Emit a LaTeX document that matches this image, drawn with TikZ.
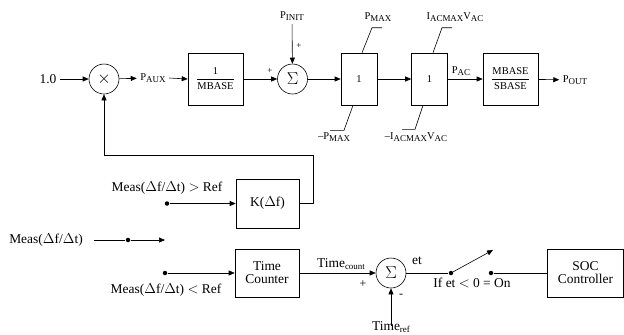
\documentclass[tikz,border=0pt]{standalone}
\usepackage{amsmath}
\usepackage{fontspec}
\setmainfont{Liberation Serif}
\usetikzlibrary{arrows.meta, positioning}
\newcommand{\subtxt}[1]{\raisebox{-0.4ex}{\fontsize{9}{10}\selectfont #1}}

\begin{document}
\begin{tikzpicture}[
    x=1bp, y=-1bp,
    line width=0.6bp,
    >={Triangle[length=6bp,width=5bp]},
    every node/.style={font=\fontsize{10.5}{12}\selectfont},
    blk/.style={draw, minimum width=55bp, minimum height=52bp, align=center, font=\fontsize{10.5}{12}\selectfont},
    lim/.style={blk, minimum width=36bp},
    ctl/.style={draw, minimum width=64bp, minimum height=48bp, align=center, font=\fontsize{13.5}{15}\selectfont},
    junc/.style={draw, circle, minimum size=30bp, inner sep=0pt, font=\fontsize{16}{16}\selectfont},
    big/.style={font=\fontsize{13.5}{15}\selectfont},
    sgn/.style={font=\fontsize{9}{10}\selectfont, inner sep=0pt},
    dot/.style={circle, fill, inner sep=0pt, minimum size=4.5bp}
]
    \useasboundingbox (0,0) rectangle (624,334);

    % Riga superiore: potenza ausiliaria
    \node[big] (one) at (48,79) {1.0};
    \node[junc] (mult) at (104,79) {$\times$};
    \node (paux) at (153,78) {P\subtxt{AUX}};
    \node[blk] (mbase) at (215.5,79) {$\dfrac{\text{1}}{\text{MBASE}}$};
    \node[junc] (sum) at (292.5,79) {$\Sigma$};
    \node (pinit) at (292,16) {P\subtxt{INIT}};
    \node[sgn] at (299,46) {+};
    \node[sgn] at (270,71) {+};
    \node[lim] (lim1) at (359,79) {1};
    \node[lim] (lim2) at (429.5,79) {1};
    \node[blk] (mbsb) at (510.5,79) {$\dfrac{\text{MBASE}}{\text{SBASE}}$};
    \node (pout) at (575,80) {P\subtxt{OUT}};
    \node (pac) at (461,71) {P\subtxt{AC}};

    % Limiti
    \node (pmax) at (378,17) {P\subtxt{MAX}};
    \node (pmin) at (334,137) {--P\subtxt{MAX}};
    \node (iacmax) at (455,17) {I\subtxt{ACMAX}V\subtxt{AC}};
    \node (iacmin) at (416,137) {--I\subtxt{ACMAX}V\subtxt{AC}};
    \draw ([xshift=3bp]lim1.north) -- ++(10,-25) -- ++(10,0);
    \draw ([xshift=-6bp]lim1.south) -- ++(-9,25) -- ++(-14,0);
    \draw ([xshift=3.5bp]lim2.north) -- ++(9,-25) -- ++(10,0);
    \draw ([xshift=-6.5bp]lim2.south) -- ++(-8,24) -- ++(-13,0);

    \draw[->] (one) -- (mult);
    \draw[->] (mult) -- (paux);
    \draw[->] (paux.east) -- (mbase.west);
    \draw[->] (mbase) -- (sum);
    \draw[->] (pinit) -- (sum);
    \draw[->] (sum) -- (lim1);
    \draw[->] (lim1) -- (lim2);
    \draw[->] (lim2) -- (mbsb);
    \draw[->] (mbsb) -- (pout);

    % Ramo K(df)
    \node[ctl, minimum width=63bp, minimum height=49bp] (kbox) at (267.5,203.5) {K($\Delta$f)};
    \node[dot] (gtdot) at (167,203.5) {};
    \node[big] (gtlbl) at (167,188) {Meas($\Delta$f/$\Delta$t) $>$ Ref};
    \draw[->] (gtdot) -- (kbox);
    \draw[->] (kbox.east) -| (313,155) -| (mult.south);

    % Misura
    \node[big] (meas) at (46,240) {Meas($\Delta$f/$\Delta$t)};
    \node[dot] (mdot) at (128,240) {};
    \coordinate (mend) at (165,240);
    \draw[->] ([xshift=8bp]meas.east) -- (mdot) -- (mend);

    % Ramo contatore
    \node[ctl] (tc) at (267,273) {Time\\[-2pt]Counter};
    \node[dot] (ltdot) at (165,273) {};
    \node[big] (ltlbl) at (166,290) {Meas($\Delta$f/$\Delta$t) $<$ Ref};
    \draw[->] (ltdot) -- (tc);
    \node[junc] (sum2) at (391,273) {$\Sigma$};
    \node[big] (tcount) at (341,264) {Time\subtxt{count}};
    \node[sgn, font=\fontsize{12}{12}\selectfont] at (363,284) {+};
    \node[sgn, font=\fontsize{12}{12}\selectfont] at (401,296) {-};
    \node[big] (tref) at (391,327) {Time\subtxt{ref}};
    \draw[->] (tc) -- (sum2);
    \draw[->] ([yshift=-8bp]tref.north) -- (sum2.south);
    \node[big] (et) at (417,261) {et};

    % Interruttore e SOC
    \node[dot] (sw1) at (451,273) {};
    \node[dot] (sw2) at (491,273) {};
    \coordinate (swtip) at (493,250);
    \node[big] (swlbl) at (472,283) {If et $<$ 0 = On};
    \node[ctl, minimum width=76bp] (soc) at (585.5,273) {SOC\\[-2pt]Controller};
    \draw (sum2) -- (sw1);
    \draw[->] (sw1) -- (swtip);
    \draw (sw2) -- (soc);
\end{tikzpicture}
\end{document}
